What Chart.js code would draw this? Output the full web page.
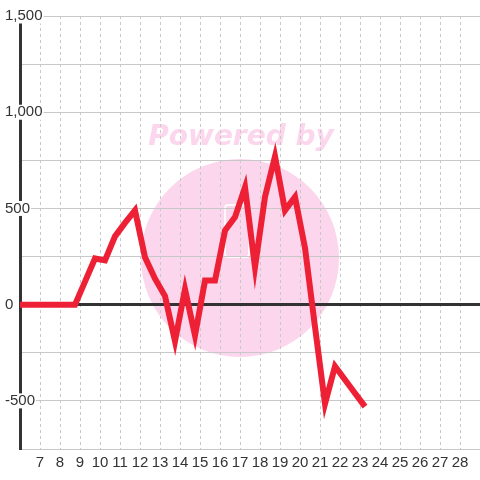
<!DOCTYPE html>
<html>
<head>
<meta charset="utf-8">
<script src="https://cdn.jsdelivr.net/npm/chart.js@4/dist/chart.umd.min.js"></script>
<style>
  html, body { margin: 0; padding: 0; background: #fff; }
  #wrap { width: 480px; height: 480px; }
</style>
</head>
<body>
<div id="wrap"><canvas id="myChart"></canvas></div>
<script>
// data
var xValues = [5.75, 6.25, 6.75, 7.25, 7.75, 8.25, 8.75, 9.25, 9.75, 10.25, 10.75, 11.25, 11.75,
  12.25, 12.75, 13.25, 13.75, 14.25, 14.75, 15.25, 15.75, 16.25, 16.75, 17.25, 17.75,
  18.25, 18.75, 19.25, 19.75, 20.25, 20.75, 21.25, 21.75, 22.25, 22.75, 23.25];
var yValues = [0, 0, 0, 0, 0, 0, 0, 120, 240, 230, 355, 425, 490,
  246, 135, 45, -190, 80, -160, 125, 125, 385, 455, 610, 195,
  560, 770, 490, 560, 295, -115, -515, -320, -390, -460, -530];
var xLabelMin = 7, xLabelMax = 28;
var watermarkText = 'Powered by';

var points = xValues.map(function (x, i) { return { x: x, y: yValues[i] }; });

// pink watermark behind the grid
var watermark = {
  id: 'watermark',
  beforeDraw: function (chart) {
    var c = chart.ctx;
    c.save();
    c.fillStyle = '#ffffff';
    c.fillRect(0, 0, chart.width, chart.height);
    c.fillStyle = '#fcd6ec';
    c.beginPath();
    c.arc(240, 258, 99, 0, Math.PI * 2);
    c.fill();
    c.font = 'italic bold 28px "DejaVu Sans"';
    c.textAlign = 'center';
    c.textBaseline = 'alphabetic';
    c.fillText(watermarkText, 241, 145);
    c.strokeStyle = 'rgba(255,255,255,0.85)';
    c.lineWidth = 2;
    c.beginPath();
    c.roundRect(225, 205, 24, 52, 3);
    c.stroke();
    c.restore();
  }
};

var ctx = document.getElementById('myChart').getContext('2d');
var myChart = new Chart(ctx, {
  type: 'line',
  data: {
    datasets: [{
      data: points,
      borderColor: '#ee2035',
      borderWidth: 6,
      pointRadius: 0,
      tension: 0,
      fill: false
    }]
  },
  options: {
    responsive: true,
    maintainAspectRatio: false,
    animation: false,
    layout: { padding: { left: 20, top: 16, right: 0, bottom: 3 } },
    plugins: {
      legend: { display: false },
      tooltip: { enabled: false }
    },
    scales: {
      x: {
        type: 'linear',
        min: 6,
        max: 29,
        border: { display: false, dash: [3, 3] },
        grid: { color: '#c8c8c8', lineWidth: 1, drawTicks: false },
        ticks: {
          stepSize: 1,
          autoSkip: false,
          maxRotation: 0,
          padding: 5,
          color: '#333',
          font: { family: '"Liberation Sans Narrow", "Liberation Sans", sans-serif', size: 15 },
          callback: function (v) { return (v >= xLabelMin && v <= xLabelMax) ? String(v) : ''; }
        },
        afterFit: function (scale) {
          scale.paddingLeft = 0;
          scale.paddingRight = 0;
        }
      },
      y: {
        min: -750,
        max: 1500,
        border: { display: true, color: '#333', width: 3 },
        grid: {
          drawTicks: false,
          color: function (c) { return c.tick && c.tick.value === 0 ? '#333' : '#c8c8c8'; },
          lineWidth: function (c) { return c.tick && c.tick.value === 0 ? 3 : 1; }
        },
        ticks: {
          stepSize: 250,
          autoSkip: false,
          mirror: true,
          padding: -15,
          color: '#333',
          font: { family: '"Liberation Sans", Arial, sans-serif', size: 15, lineHeight: 1 },
          showLabelBackdrop: true,
          backdropColor: '#ffffff',
          backdropPadding: { top: 0, bottom: 0, left: 1, right: 1 },
          callback: function (v) { return v % 500 === 0 ? v.toLocaleString('en-US') : ''; }
        },
        afterFit: function (scale) {
          scale.width = 0;
          scale.paddingTop = 0;
          scale.paddingBottom = 0;
        }
      }
    }
  },
  plugins: [watermark]
});
</script>
</body>
</html>
